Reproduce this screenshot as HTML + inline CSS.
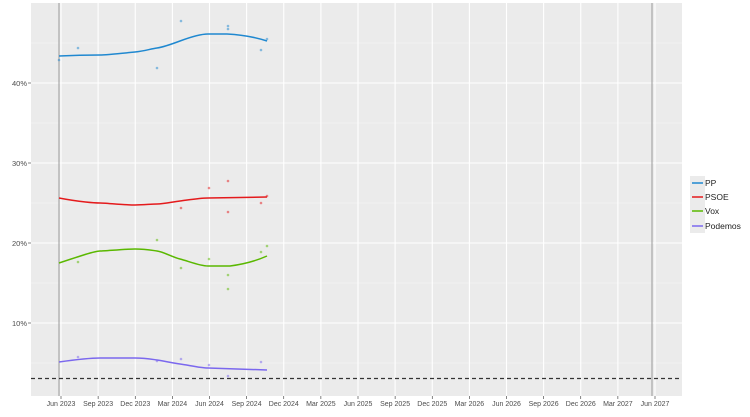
<!DOCTYPE html>
<html><head><style>body{margin:0;background:#fff}svg{display:block;font-family:"Liberation Sans",sans-serif}</style></head><body>
<svg width="750" height="417" viewBox="0 0 750 417">
<rect x="31" y="3" width="651" height="393" fill="#ebebeb"/>
<g stroke="#f5f5f5" stroke-width="0.6">
<line x1="31" x2="682" y1="363" y2="363"/><line x1="31" x2="682" y1="283" y2="283"/><line x1="31" x2="682" y1="203" y2="203"/><line x1="31" x2="682" y1="123" y2="123"/><line x1="31" x2="682" y1="43" y2="43"/>
</g>
<g stroke="#fff" stroke-width="1.1">
<line x1="31" x2="682" y1="323" y2="323"/><line x1="31" x2="682" y1="243" y2="243"/><line x1="31" x2="682" y1="163" y2="163"/><line x1="31" x2="682" y1="83" y2="83"/>
</g>
<g stroke="#fff" stroke-width="1.1" id="vg"></g>
<g stroke="#999" stroke-width="1"><line x1="59" x2="59" y1="3" y2="396"/><line x1="652" x2="652" y1="3" y2="396"/></g>
<line x1="31" x2="682" y1="378.5" y2="378.5" stroke="#333" stroke-width="1.2" stroke-dasharray="4,3"/>
<g fill="none" stroke-width="1.5">
<path d="M59,56 C80,55 95,55 100,55 S125,53 135,52 S150,49 157,48 S172,44 180,41 S200,34 208,34 L227,34 C245,35 258,38 267,41" stroke="#1f88d0"/>
<path d="M59,198 C80,202 95,203 100,203 S125,205 135,205 S150,204 157,204 S172,202 180,201 S200,198 208,198 L267,197" stroke="#e41a1c"/>
<path d="M59,263 C80,256 95,251 100,251 S125,249 135,249 S150,250 157,251 S172,257 180,259 S200,266 208,266 L230,266 C245,264 258,260 267,256" stroke="#5ab800"/>
<path d="M59,362 C80,359 95,358 100,358 S125,358 135,358 S150,359 157,360 S172,363 180,364 S200,368 208,368 L267,370" stroke="#7b68ee"/>
</g>
<g opacity="0.5" font-size="0">
<g fill="#1f88d0"><circle cx="59" cy="60" r="1.3"/><circle cx="78" cy="48" r="1.3"/><circle cx="157" cy="68" r="1.3"/><circle cx="181" cy="21" r="1.3"/><circle cx="228" cy="26" r="1.3"/><circle cx="228" cy="29" r="1.3"/><circle cx="261" cy="50" r="1.3"/><circle cx="267" cy="39" r="1.3"/></g>
<g fill="#e41a1c"><circle cx="209" cy="188" r="1.3"/><circle cx="228" cy="181" r="1.3"/><circle cx="228" cy="212" r="1.3"/><circle cx="181" cy="208" r="1.3"/><circle cx="261" cy="203" r="1.3"/><circle cx="267" cy="196" r="1.3"/></g>
<g fill="#5ab800"><circle cx="78" cy="262" r="1.3"/><circle cx="157" cy="240" r="1.3"/><circle cx="181" cy="268" r="1.3"/><circle cx="209" cy="259" r="1.3"/><circle cx="228" cy="275" r="1.3"/><circle cx="228" cy="289" r="1.3"/><circle cx="261" cy="252" r="1.3"/><circle cx="267" cy="246" r="1.3"/></g>
<g fill="#7b68ee"><circle cx="78" cy="357" r="1.3"/><circle cx="157" cy="361" r="1.3"/><circle cx="181" cy="359" r="1.3"/><circle cx="209" cy="365" r="1.3"/><circle cx="228" cy="376" r="1.3"/><circle cx="261" cy="362" r="1.3"/></g>
</g>
<g font-size="7.5" fill="#4d4d4d" text-anchor="end">
<text x="27" y="86">40%</text><text x="27" y="166">30%</text><text x="27" y="246">20%</text><text x="27" y="326">10%</text>
</g>
<g stroke="#333" stroke-width="0.6"><line x1="28" x2="31" y1="83" y2="83"/><line x1="28" x2="31" y1="163" y2="163"/><line x1="28" x2="31" y1="243" y2="243"/><line x1="28" x2="31" y1="323" y2="323"/></g>
<g font-size="7" fill="#4d4d4d" text-anchor="middle" id="xl"></g>
<rect x="690" y="176" width="15" height="57" fill="#ebebeb"/>
<g stroke-width="1.5"><line x1="692" x2="703" y1="183" y2="183" stroke="#1f88d0"/><line x1="692" x2="703" y1="197" y2="197" stroke="#e41a1c"/><line x1="692" x2="703" y1="211" y2="211" stroke="#5ab800"/><line x1="692" x2="703" y1="226" y2="226" stroke="#7b68ee"/></g>
<g font-size="8.5" fill="#222"><text x="705" y="186">PP</text><text x="705" y="200">PSOE</text><text x="705" y="214">Vox</text><text x="705" y="229">Podemos</text></g>
<script>
var L=["Jun 2023","Sep 2023","Dec 2023","Mar 2024","Jun 2024","Sep 2024","Dec 2024","Mar 2025","Jun 2025","Sep 2025","Dec 2025","Mar 2026","Jun 2026","Sep 2026","Dec 2026","Mar 2027","Jun 2027"];
var ns="http://www.w3.org/2000/svg",vg=document.getElementById("vg"),xl=document.getElementById("xl");
for(var i=0;i<17;i++){var x=61+i*37.125;
var l=document.createElementNS(ns,"line");l.setAttribute("x1",x);l.setAttribute("x2",x);l.setAttribute("y1",3);l.setAttribute("y2",396);vg.appendChild(l);
var t=document.createElementNS(ns,"line");t.setAttribute("x1",x);t.setAttribute("x2",x);t.setAttribute("y1",396);t.setAttribute("y2",399);t.setAttribute("stroke","#333");t.setAttribute("stroke-width","0.6");xl.appendChild(t);
var s=document.createElementNS(ns,"text");s.setAttribute("x",x);s.setAttribute("y",406);s.textContent=L[i];xl.appendChild(s);}
</script>
</svg>
</body></html>
